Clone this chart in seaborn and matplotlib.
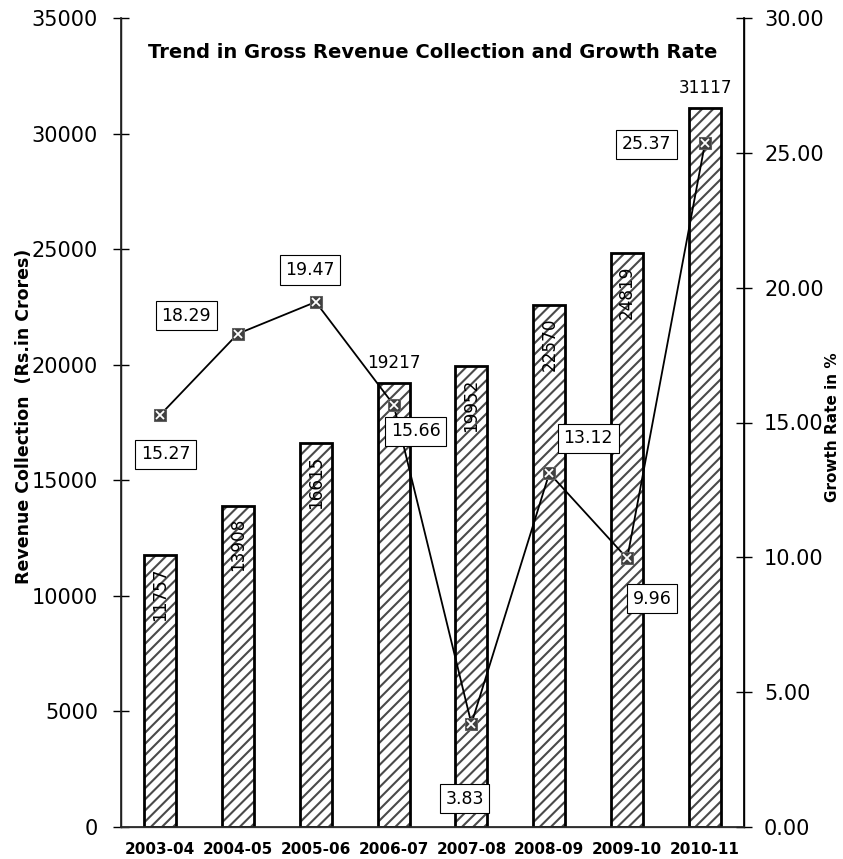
import numpy as np
import pandas as pd
import seaborn as sns
import matplotlib
matplotlib.use("Agg")
import matplotlib.pyplot as plt

years = ['2003-04', '2004-05', '2005-06', '2006-07', '2007-08', '2008-09', '2009-10', '2010-11']
revenue = [11757, 13908, 16615, 19217, 19952, 22570, 24819, 31117]
growth = [15.27, 18.29, 19.47, 15.66, 3.83, 13.12, 9.96, 25.37]

# offsets (points) of the growth-rate boxes from their markers
growth_off = [(4, -28), (-37, 13), (-4, 23), (16, -19), (-5, -54), (28, 25), (18, -29), (-42, -1)]
horizontal_lbl = ['2006-07', '2010-11']

sns.set_theme(style="white")
plt.rcParams['font.family'] = ['DejaVu Sans']
plt.rcParams['text.color'] = 'black'
plt.rcParams['axes.labelcolor'] = 'black'
plt.rcParams['xtick.color'] = 'black'
plt.rcParams['ytick.color'] = 'black'
plt.rcParams['hatch.linewidth'] = 1.5

df = pd.DataFrame({'year': years, 'revenue': revenue, 'growth': growth})

fig = plt.figure(figsize=(8.43, 8.59), dpi=100)
ax = fig.add_axes([121/843, 1-827/859, (744-121)/843, (827-18)/859])
# hatched fill (grey stripes), then black outline on top
sns.barplot(data=df, x='year', y='revenue', ax=ax, color='white', width=0.41,
            edgecolor='#4a4a4a', linewidth=0, hatch='///')
sns.barplot(data=df, x='year', y='revenue', ax=ax, color='black', width=0.41,
            fill=False, linewidth=2)
ax.set_xlim(-0.5, 7.5)
ax.set_ylim(0, 35000)
ax.set_yticks(range(0, 35001, 5000))
ax.tick_params(axis='y', direction='inout', length=11.5, width=1, labelsize=15, pad=10.8)
ax.set_xticks(range(8))
ax.set_xticklabels(years, fontweight='bold', fontsize=11)
ax.tick_params(axis='x', length=0, pad=11)
ax.set_xticks(np.arange(-0.5, 8, 1), minor=True)
ax.tick_params(axis='x', which='minor', direction='inout', length=7, width=1)
ax.set_xlabel('')
ax.set_ylabel('Revenue Collection  (Rs.in Crores)', fontweight='bold', fontsize=12.5)
ax.yaxis.set_label_coords(-0.141, 0.507)
ax.spines['top'].set_visible(False)
ax.spines['left'].set_color('black')
ax.spines['right'].set_color('black')
ax.spines['bottom'].set_color('#707070')
for s in ['left', 'right', 'bottom']:
    ax.spines[s].set_linewidth(1)

for i, (y, v) in enumerate(zip(years, revenue)):
    if y in horizontal_lbl:
        ax.annotate(str(v), (i, v), xytext=(0, 8), textcoords='offset points',
                    ha='center', va='bottom', fontsize=12.2)
    else:
        ax.annotate(str(v), (i, v), xytext=(0, -9), textcoords='offset points',
                    ha='center', va='top', rotation=90, fontsize=12.2)

ax.text(0.5, 0.957, 'Trend in Gross Revenue Collection and Growth Rate', transform=ax.transAxes,
        ha='center', va='center', fontweight='bold', fontsize=14)

ax2 = ax.twinx()
sns.lineplot(data=df, x='year', y='growth', ax=ax2, color='black', linewidth=1.3,
             marker='s', markersize=8.5, markerfacecolor='#404040', markeredgecolor='#606060')
sns.lineplot(data=df, x='year', y='growth', ax=ax2, color='none', linewidth=0,
             marker='x', markersize=5.5, markeredgecolor='white', markeredgewidth=1.3)
ax2.set_ylim(0, 30)
ax2.set_yticks(range(0, 31, 5))
ax2.set_yticklabels(['%.2f' % t for t in range(0, 31, 5)])
ax2.tick_params(axis='y', direction='inout', length=11.5, width=1, labelsize=15, pad=8.7)
ax2.set_ylabel('Growth Rate in %', fontweight='bold', fontsize=11)
ax2.yaxis.set_label_coords(1.130, 0.494)
ax2.spines['top'].set_visible(False)
ax2.spines['right'].set_color('black')
ax2.set_xlim(-0.5, 7.5)

for i, g in enumerate(growth):
    ax2.annotate('%.2f' % g, (i, g), xytext=growth_off[i], textcoords='offset points',
                 ha='center', va='center', fontsize=12.5,
                 bbox=dict(boxstyle='square,pad=0.32', fc='white', ec='black', lw=0.8))

fig.savefig('out.png', dpi=100)
